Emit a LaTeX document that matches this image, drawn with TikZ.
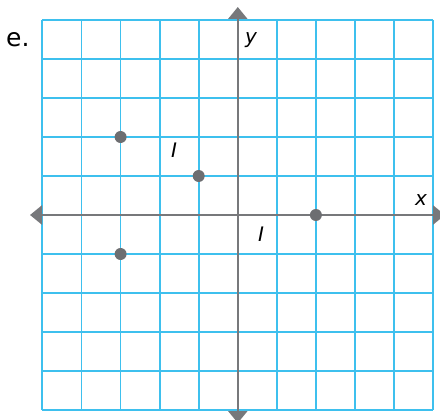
\documentclass[tikz,border=0pt]{standalone}
\usepackage{fontspec}
\setmainfont{DejaVu Sans}
\usetikzlibrary{arrows.meta}
\definecolor{gridc}{HTML}{3EC0EE}
\definecolor{axisc}{HTML}{77787B}
\definecolor{dotc}{HTML}{6D6E71}
\tikzset{
  gridline/.style={draw=gridc, line width=1.8pt},
  axisline/.style={draw=axisc, line width=2.3pt, {Triangle[length=12pt,width=19pt]}-{Triangle[length=12pt,width=19pt]}},
  pt/.style={circle, fill=dotc, inner sep=0pt, minimum size=12pt},
  lab/.style={inner sep=0pt, font=\fontsize{20}{20}\selectfont\itshape},
}
\begin{document}
\begin{tikzpicture}[x=1pt,y=-1pt]
\useasboundingbox (0,0) rectangle (440,420);
\clip (0,0) rectangle (440,420);
\fill[white] (0,0) rectangle (440,420);
% grid
\foreach \i in {0,...,10} {
  \draw[gridline] ({42.3+39.1*\i},20) -- ({42.3+39.1*\i},410);
  \draw[gridline] (42.3,{20+39*\i}) -- (433.3,{20+39*\i});
}
% axes
\coordinate (xl) at (30,215);
\coordinate (xr) at (445,215);
\coordinate (yt) at (237.8,7);
\coordinate (yb) at (237.8,423);
\draw[axisline] (xl) -- (xr);
\draw[axisline] (yt) -- (yb);
% labels
\node[inner sep=0pt, anchor=base west, font=\fontsize{25}{25}\selectfont] (e) at (6,47) {e.};
\node[lab, anchor=base] (ly) at (251,44) {y};
\node[lab, anchor=base] (lx) at (421,205) {x};
\node[lab, anchor=base] (i1) at (174,158) {I};
\node[lab, anchor=base] (i2) at (261,242) {I};
% points
\node[pt] (p1) at (120.6,137) {};
\node[pt] (p2) at (198.7,176) {};
\node[pt] (p3) at (315.9,215) {};
\node[pt] (p4) at (120.6,254) {};
\end{tikzpicture}
\end{document}
